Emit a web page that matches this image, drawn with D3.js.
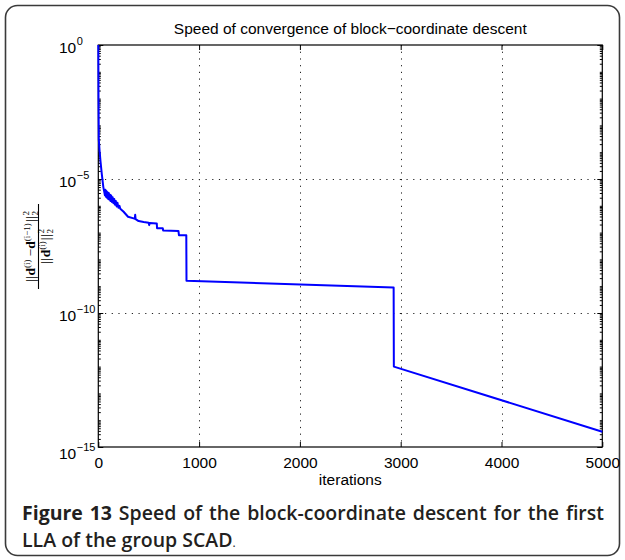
<!DOCTYPE html>
<html>
<head>
<meta charset="utf-8">
<script src="https://cdn.jsdelivr.net/npm/d3@7"></script>
<style>
  body { margin: 0; background: #fff; }
  svg { display: block; }
</style>
</head>
<body>
<svg id="chart" width="625" height="560"></svg>
<script>
// Relative change of the coefficient vector per block-coordinate sweep
const iterations = [
  0, 2, 5, 12, 22, 35, 50, 60,
  65, 70, 75, 80, 86, 92, 98, 104, 110, 116, 122, 128, 135, 142, 150, 158, 166, 174, 182, 190, 200, 210, 218,
  251, 295, 350, 362, 366, 370, 400, 450, 499, 505, 510,
  580, 583, 640, 643, 795, 800, 873, 875,
  2930, 2932, 5000
];
const residuals = [
  1, 1e-2, 3e-4, 1.2e-4, 4.5e-5, 1.5e-5, 5e-6, 3.2e-6,
  2.5e-6, 4.0e-6, 2.2e-6, 3.6e-6, 2.0e-6, 3.2e-6, 1.8e-6, 3.0e-6, 1.7e-6, 2.6e-6, 1.5e-6, 2.4e-6, 1.4e-6, 2.1e-6, 1.25e-6, 1.8e-6, 1.1e-6, 1.5e-6, 9.5e-7, 1.3e-6, 8.5e-7, 1.0e-6, 7.8e-7,
  6.0e-7, 3.9e-7, 3.4e-7, 3.3e-7, 4.6e-7, 3.2e-7, 2.7e-7, 2.5e-7, 2.35e-7, 1.9e-7, 2.3e-7,
  2.2e-7, 1.45e-7, 1.45e-7, 1.2e-7, 1.15e-7, 8e-8, 8e-8, 1.6e-9,
  8.9e-10, 1.0e-12, 3.7e-15
];

const xTickValues = [0, 1000, 2000, 3000, 4000, 5000];
const yTickExponents = [0, -5, -10, -15];
const titleText = "Speed of convergence of block\u2212coordinate descent";
const xLabelText = "iterations";
const captionLead = "Figure 13";
const captionLine1 = "Speed of the block-coordinate descent for the first";
const captionLine2 = "LLA of the group SCAD";

const svg = d3.select("#chart");
const plot = { left: 98.3, right: 602.3, top: 45, bottom: 447 };
const axisFont = "'Liberation Sans', Arial, Helvetica, sans-serif";
const axisSize = 15.5;

const x = d3.scaleLinear().domain([0, 5000]).range([plot.left, plot.right]);
const y = d3.scaleLog().domain([1e-15, 1]).range([plot.bottom, plot.top]);

// Rounded frame around figure and caption
svg.append("rect")
  .attr("x", 5.5).attr("y", 5.5).attr("width", 614).attr("height", 550)
  .attr("rx", 12).attr("ry", 12)
  .attr("fill", "#fff").attr("stroke", "#3a3a3a").attr("stroke-width", 1.6);

// Dotted grid at the major ticks
const grid = svg.append("g")
  .attr("stroke", "#222").attr("stroke-width", 1)
  .attr("stroke-dasharray", "1.2,5.5");
grid.selectAll("line.v")
  .data(xTickValues.filter(v => v > 0 && v < 5000))
  .join("line").attr("class", "v")
  .attr("x1", d => Math.round(x(d)) + 0.5).attr("x2", d => Math.round(x(d)) + 0.5)
  .attr("y1", plot.top).attr("y2", plot.bottom);
grid.selectAll("line.h")
  .data(yTickExponents.filter(e => e < 0 && e > -15))
  .join("line").attr("class", "h")
  .attr("x1", plot.left).attr("x2", plot.right)
  .attr("y1", d => Math.round(y(Math.pow(10, d))) + 0.5)
  .attr("y2", d => Math.round(y(Math.pow(10, d))) + 0.5);

// Axis box
svg.append("rect")
  .attr("x", plot.left).attr("y", plot.top)
  .attr("width", plot.right - plot.left).attr("height", plot.bottom - plot.top)
  .attr("fill", "none").attr("stroke", "#000").attr("stroke-width", 1.2);

// Minor ticks on the log axis (1..9 x 10^k)
const minorTicks = [];
for (let e = -15; e < 0; e++) {
  for (let k = 1; k <= 9; k++) {
    if (!(k === 1 && e % 5 === 0)) minorTicks.push(k * Math.pow(10, e));
  }
}
const majorY = yTickExponents.map(e => Math.pow(10, e));

function styleAxis(g) {
  g.select(".domain").remove();
  g.selectAll(".tick line").attr("stroke", "#000").attr("stroke-width", 1);
}

// x axes (bottom with labels, top ticks only)
svg.append("g")
  .attr("transform", `translate(0,${plot.bottom})`)
  .call(d3.axisBottom(x).tickValues(xTickValues).tickSizeInner(-5).tickSizeOuter(0).tickFormat(d3.format("d")))
  .call(styleAxis)
  .call(g => g.selectAll(".tick text")
    .attr("y", 20.5).attr("dy", null)
    .attr("font-family", axisFont).attr("font-size", axisSize).attr("fill", "#000"));

svg.append("g")
  .attr("transform", `translate(0,${plot.top})`)
  .call(d3.axisTop(x).tickValues(xTickValues).tickSizeInner(-5).tickSizeOuter(0).tickFormat(""))
  .call(styleAxis);

// y axes: minor and major ticks on both sides
svg.append("g")
  .attr("transform", `translate(${plot.left},0)`)
  .call(d3.axisLeft(y).tickValues(minorTicks).tickSizeInner(-2.5).tickSizeOuter(0).tickFormat(""))
  .call(styleAxis);
svg.append("g")
  .attr("transform", `translate(${plot.right},0)`)
  .call(d3.axisRight(y).tickValues(minorTicks).tickSizeInner(-2.5).tickSizeOuter(0).tickFormat(""))
  .call(styleAxis);
svg.append("g")
  .attr("transform", `translate(${plot.right},0)`)
  .call(d3.axisRight(y).tickValues(majorY).tickSizeInner(-5).tickSizeOuter(0).tickFormat(""))
  .call(styleAxis);

const leftAxis = svg.append("g")
  .attr("transform", `translate(${plot.left},0)`)
  .call(d3.axisLeft(y).tickValues(majorY).tickSizeInner(-5).tickSizeOuter(0).tickFormat(""))
  .call(styleAxis);

// Power-of-ten labels, left aligned as in MATLAB
leftAxis.selectAll(".tick").each(function(d) {
  const e = Math.round(Math.log10(d));
  const t = d3.select(this).append("text")
    .attr("x", 59 - plot.left)
    .attr("y", e === -15 ? 11 : 7)
    .attr("text-anchor", "start")
    .attr("font-family", axisFont).attr("font-size", axisSize).attr("fill", "#000");
  t.append("tspan").text("10");
  t.append("tspan").attr("dy", -8).attr("dx", 0.5).attr("font-size", 11)
    .text(e === 0 ? "0" : "\u2212" + Math.abs(e));
});

// Convergence curve
const series = iterations.map((it, i) => ({ it, v: residuals[i] }));
svg.append("path")
  .datum(series)
  .attr("fill", "none")
  .attr("stroke", "#0000ff")
  .attr("stroke-width", 2)
  .attr("stroke-linejoin", "round")
  .attr("d", d3.line().x(d => x(d.it)).y(d => y(d.v)));

// Title and axis label
svg.append("text")
  .attr("x", (plot.left + plot.right) / 2).attr("y", 34)
  .attr("text-anchor", "middle")
  .attr("font-family", axisFont).attr("font-size", axisSize).attr("fill", "#000")
  .text(titleText);

svg.append("text")
  .attr("x", (plot.left + plot.right) / 2).attr("y", 485)
  .attr("text-anchor", "middle")
  .attr("font-family", axisFont).attr("font-size", axisSize).attr("fill", "#000")
  .text(xLabelText);

// y label: ||d^(i) - d^(i-1)||_2^2 / ||d^(i)||_2^2, rotated
const serif = "'Liberation Serif', 'DejaVu Serif', serif";
const baseSize = 13.5, scriptSize = 9;
const yl = svg.append("g")
  .attr("transform", "translate(38.5,246.5) rotate(-90)")
  .attr("font-family", serif).attr("fill", "#000");
yl.append("line")
  .attr("x1", -42.5).attr("x2", 42.5).attr("y1", 0).attr("y2", 0)
  .attr("stroke", "#000").attr("stroke-width", 1.1);

function bars(t) {
  t.append("tspan").attr("font-size", baseSize).attr("letter-spacing", 0.6).text("||");
}
function normTerm(t, sup) {
  t.append("tspan").attr("font-weight", "bold").attr("font-size", baseSize).text("d");
  t.append("tspan").attr("font-size", scriptSize).attr("dy", -5).text(sup);
  t.append("tspan").attr("font-size", baseSize).attr("dy", 5).text("\u200a");
}
function normTail(t) {
  bars(t);
  t.append("tspan").attr("font-size", scriptSize).attr("dy", -5.5).text("2");
  t.append("tspan").attr("font-size", scriptSize).attr("dx", -4.5).attr("dy", 9).text("2");
}

const num = yl.append("text")
  .attr("x", 0).attr("y", -4).attr("text-anchor", "middle");
bars(num);
normTerm(num, "(i)");
num.append("tspan").attr("dx", 2).attr("font-size", baseSize).text("\u2212");
num.append("tspan").attr("dx", 2).attr("font-size", baseSize).text("");
normTerm(num, "(i\u22121)");
normTail(num);

const den = yl.append("text")
  .attr("x", 0).attr("y", 11).attr("text-anchor", "middle");
bars(den);
normTerm(den, "(i)");
normTail(den);

// Caption, line 1 justified between the frame margins
const capFont = "'Open Sans', 'Noto Sans', sans-serif";
const capSize = 19.5;
const capLeft = 22, capRight = 604;
const cap1 = svg.append("text")
  .attr("x", capLeft).attr("y", 520)
  .attr("font-family", capFont).attr("font-size", capSize).attr("font-weight", 700)
  .attr("fill", "#231f20");
cap1.append("tspan").text(captionLead + " ");
cap1.append("tspan").attr("font-weight", 600).text(captionLine1);
const natural = cap1.node().getComputedTextLength();
const gaps = (captionLead + " " + captionLine1).split(" ").length - 1;
cap1.attr("word-spacing", (capRight - capLeft - natural) / gaps);

const cap2 = svg.append("text")
  .attr("x", capLeft).attr("y", 547)
  .attr("font-family", capFont).attr("font-size", capSize).attr("font-weight", 600)
  .attr("fill", "#231f20");
cap2.append("tspan").text(captionLine2);
cap2.append("tspan").attr("font-weight", 400).attr("font-size", 12).text(".");
</script>
</body>
</html>
